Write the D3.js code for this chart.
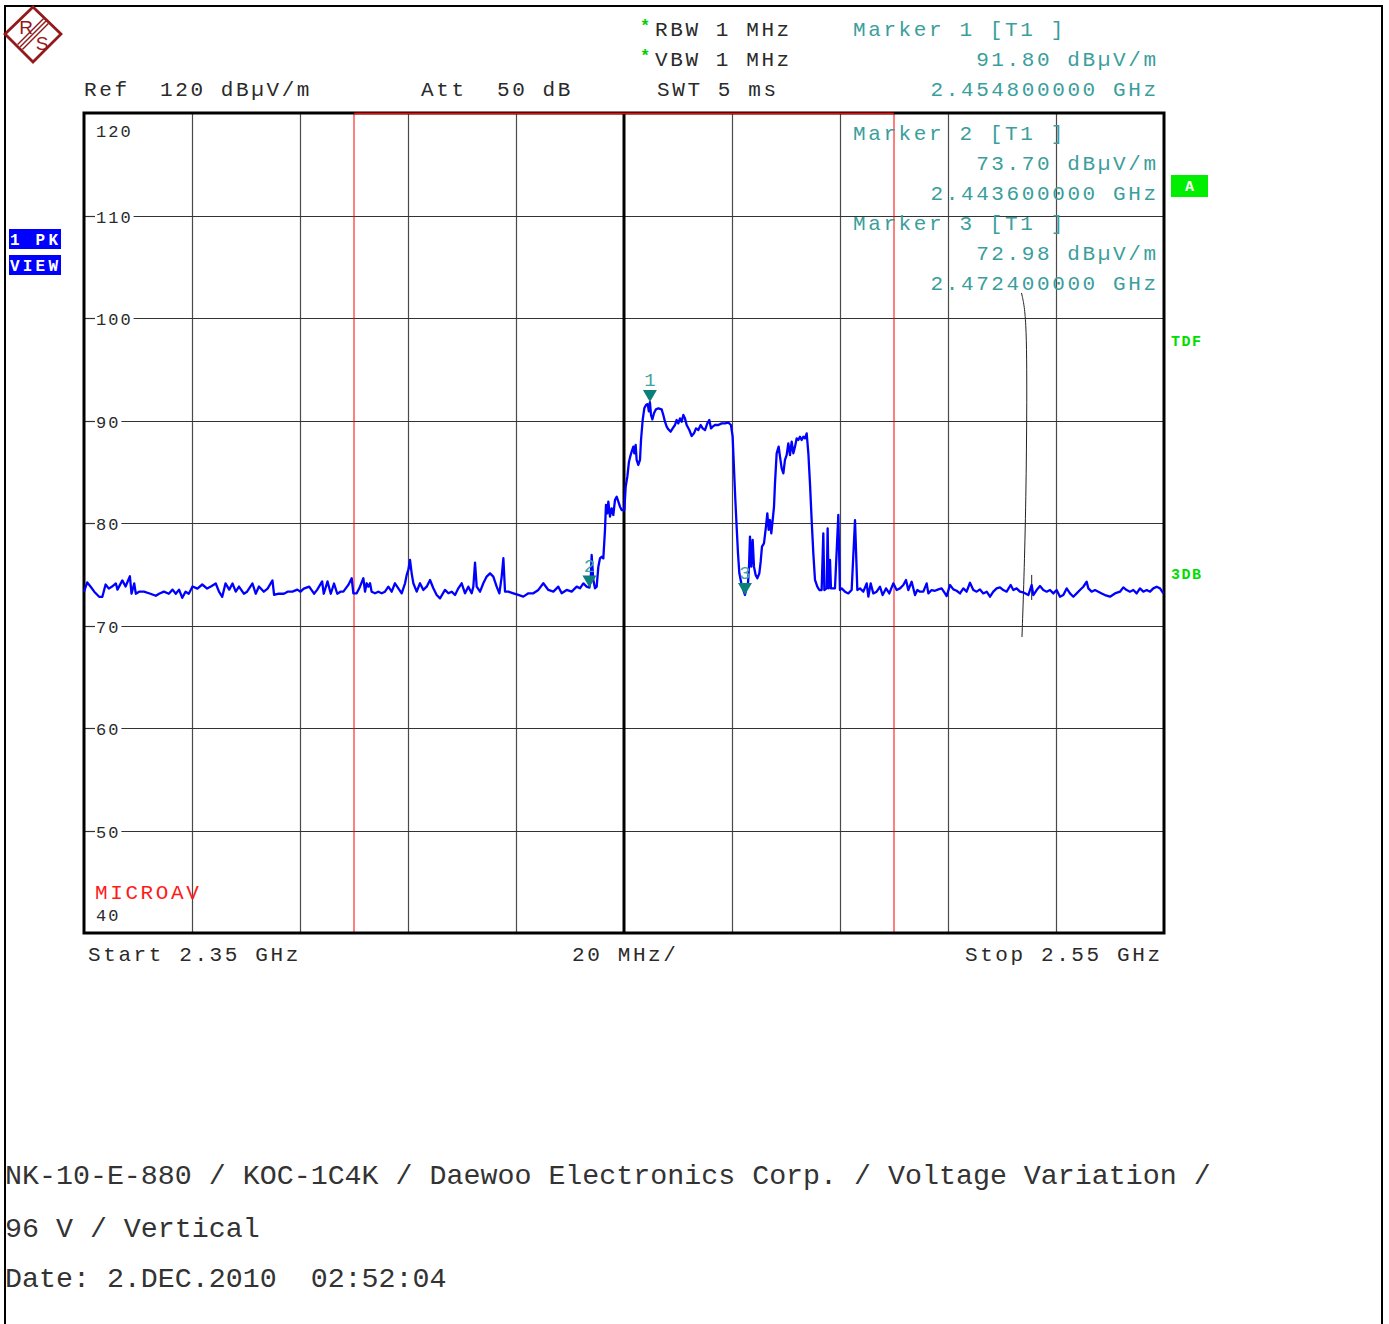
<!DOCTYPE html>
<html><head><meta charset="utf-8">
<script src="https://cdn.jsdelivr.net/npm/d3@7"></script>
<style>
html,body{margin:0;padding:0;background:#fff;}
svg{display:block;}
text{white-space:pre;}
</style></head><body>
<svg id="c" width="1389" height="1324"></svg>
<script>
// ---------- DATA ----------
const traceFreq = [
2350.0,2350.6,2351.2,2351.9,2352.8,2353.4,2354.0,2354.6,2355.2,2355.9,2356.2,2357.1,2357.7,2358.5,2358.8,2359.3,2359.6,2360.2,2361.1,2362.3,
2363.3,2363.9,2364.8,2365.7,2366.4,2367.0,2367.6,2368.2,2368.8,2369.4,2370.1,2371.0,2371.9,2372.8,2373.5,2374.4,2375.0,2375.6,2376.2,2376.9,
2377.5,2378.1,2378.7,2379.6,2380.2,2381.2,2381.8,2382.4,2383.3,2384.0,2384.9,2385.2,2386.1,2387.0,2387.7,2388.6,2389.5,2390.1,2390.7,2391.7,
2392.6,2393.2,2394.1,2394.4,2395.1,2395.7,2396.3,2396.9,2397.5,
2398.03,2398.95,2399.57,2399.88,2400.50,2401.11,2401.73,2402.04,2402.35,2402.66,2402.97,2403.27,2403.89,2404.51,2405.13,2405.74,2406.36,2406.98,
2407.59,2408.21,2408.83,2409.45,2409.76,2410.06,2410.37,2410.68,2410.99,2411.61,2412.22,2412.84,2413.46,2414.08,2414.69,2415.31,2415.93,2416.85,
2417.47,2418.09,2418.71,2419.32,2419.94,2420.56,2421.17,2421.79,2422.10,2422.41,2422.72,2423.34,2423.95,2424.57,2425.19,2425.80,2426.42,2426.92,
2427.35,2427.66,2427.97,2428.58,2429.51,2430.43,2431.36,2432.29,2433.21,2434.14,2435.06,2435.99,2436.92,2437.84,2438.46,2439.38,2440.31,2441.24,
2441.85,2442.47,2443.08,2443.60,2443.85,2444.01,2444.32,2444.63,2444.94,2445.25,2445.55,2445.86,2446.17,2446.48,2446.66,2446.91,2447.10,2447.41,
2447.71,2448.02,2448.33,2448.64,2448.95,2449.26,2449.57,2450.06,2450.31,2450.62,2450.92,2451.23,2451.42,2451.73,2451.91,2452.16,2452.34,2452.65,
2452.96,2453.15,2453.46,2453.76,2454.07,2454.38,2454.60,2454.80,2455.00,2455.25,2455.55,2455.92,2456.36,2456.97,2457.28,2457.59,2457.90,2458.21,
2458.64,2459.01,2459.44,2459.75,2460.06,2460.37,2460.68,2460.99,2461.29,2461.60,2462.10,2462.53,2462.96,2463.33,2463.76,2464.20,2464.57,2465.00,
2465.43,2465.80,2466.11,2466.42,2466.85,2467.47,2468.09,2468.70,2469.32,2469.81,2470.12,2470.25,2470.43,2470.62,2470.86,2471.11,2471.36,2471.79,
2472.40,2472.71,2472.96,2473.15,2473.33,2473.58,2473.83,2474.07,2474.38,2474.69,2475.06,2475.31,2475.55,2475.92,2476.29,2476.54,2476.79,2477.04,
2477.28,2477.53,2477.78,2477.96,2478.27,2478.64,2478.89,2479.20,2479.51,2479.81,2480.12,2480.43,2480.74,2481.05,2481.36,2481.67,2481.98,2482.28,
2482.59,2482.90,2483.21,2483.52,2483.83,2484.14,2484.44,2484.75,2485.06,2485.37,2485.80,2486.17,
2486.60,2486.91,2487.10,2487.53,2487.71,2487.90,2488.15,2488.33,2489.07,2489.69,2489.99,2490.31,2490.92,2491.54,2492.16,2492.78,2493.21,2493.70,
2494.32,2494.94,2495.25,2495.68,2496.17,2496.79,2497.41,2497.90,2498.52,2499.13,2499.87,2500.49,2501.11,2501.73,2502.22,2502.65,2503.27,2503.89,
2504.32,2504.81,2505.43,2506.05,2506.36,2506.97,2507.59,2508.21,2508.82,2509.44,2509.75,2510.37,2510.99,2511.60,2512.22,2512.84,2513.45,2514.07,
2514.69,2515.31,2515.92,2516.54,2517.16,2517.78,2518.39,2519.01,2519.63,2520.24,2520.86,2521.60,2522.10,2522.71,2523.33,2524.07,2524.88,2525.49,
2525.80,2526.42,2527.04,2527.65,2528.27,2528.89,2529.51,2530.12,2530.74,2531.36,2531.97,2532.59,2533.21,2533.83,2534.44,2535.06,2535.68,2535.99,
2536.60,2537.22,2537.84,2538.46,2539.07,2540.00,2540.92,2541.85,2542.47,2543.08,2543.70,2544.32,2544.94,2545.55,2546.17,2546.79,2547.41,2548.02,
2548.64,2549.26,2549.88
];
const traceLevel = [
73.3,74.2,73.8,73.3,72.8,72.8,74.0,73.6,73.8,74.1,73.5,74.4,73.8,74.8,73.1,74.1,73.1,73.3,73.3,73.1,
72.9,73.1,73.3,73.1,73.5,73.1,73.5,72.7,73.3,73.1,73.8,73.6,74.0,73.6,73.8,74.1,73.3,72.8,74.1,73.5,
74.1,73.3,73.8,73.1,73.3,74.1,73.1,73.8,73.3,73.6,74.4,73.0,73.1,73.1,73.3,73.3,73.5,73.3,73.6,73.8,
73.1,73.5,74.3,73.1,74.3,73.1,74.1,73.1,73.3,
73.30,73.96,74.61,73.14,73.14,73.79,74.61,73.30,74.12,73.79,74.12,73.30,73.14,73.30,73.14,73.30,73.79,73.30,
74.12,73.63,73.14,74.12,74.93,75.42,76.39,75.09,74.12,73.30,74.12,73.47,73.79,74.44,73.63,72.98,72.65,73.47,
73.14,73.30,72.98,73.63,74.12,73.14,73.79,73.14,73.79,76.13,73.79,73.30,74.12,74.77,75.09,74.77,73.79,73.14,
74.77,76.56,73.30,73.30,73.14,72.98,72.82,73.14,73.14,73.47,74.12,73.47,73.30,73.79,73.14,73.47,73.30,73.79,
73.63,74.11,73.79,73.70,74.60,76.88,74.44,73.63,73.79,75.74,76.55,76.71,76.55,79.32,81.76,80.94,82.08,80.62,
81.43,80.78,82.24,82.57,82.08,81.59,81.27,81.27,83.54,84.52,85.98,86.63,86.96,87.45,86.80,87.61,86.15,85.66,
86.15,88.10,90.05,91.19,91.51,91.60,90.90,91.80,90.54,90.11,90.70,91.09,91.19,91.09,90.54,89.88,89.40,89.14,
88.91,89.23,89.56,90.05,89.72,90.21,89.88,90.54,90.21,89.56,89.07,88.49,88.75,89.23,89.07,89.56,89.23,89.07,
89.72,90.05,89.23,89.40,89.56,89.56,89.72,89.72,89.79,89.56,88.42,86.80,84.52,82.24,79.64,77.04,75.09,73.95,
72.98,73.79,74.11,75.74,78.67,75.74,78.34,75.74,74.93,74.60,75.09,76.23,77.69,78.02,79.64,80.94,79.32,80.29,
78.99,80.29,81.59,83.87,86.80,87.45,86.47,85.33,84.84,86.15,86.63,87.77,86.63,87.93,86.80,87.45,88.26,88.10,
88.42,88.10,88.42,88.26,88.75,86.80,83.87,80.29,77.04,74.44,73.79,73.46,
73.46,78.99,73.46,73.62,79.48,73.62,76.39,73.62,73.62,80.78,73.46,73.62,73.30,73.13,73.46,80.29,73.46,73.62,
73.30,74.11,72.81,74.11,73.13,73.30,73.78,72.97,73.62,73.13,74.11,73.46,73.62,73.95,74.44,73.46,74.27,72.97,
73.46,73.30,73.30,74.11,73.13,73.46,73.39,73.52,73.62,73.13,72.87,73.95,73.52,73.39,73.13,73.62,73.30,74.17,
73.46,73.30,73.52,73.13,73.30,72.81,73.30,73.62,73.72,73.46,73.30,73.95,73.46,73.62,73.30,73.20,72.97,73.95,
72.97,73.46,73.85,73.46,73.30,73.46,73.13,73.46,72.81,72.97,73.62,73.13,72.81,73.13,73.46,73.78,74.27,73.62,
73.30,73.46,73.30,73.13,72.97,72.81,73.13,73.30,73.72,73.46,73.30,73.46,73.13,73.62,73.30,73.46,73.30,73.62,
73.78,73.62,73.13
];
const markerNames = ["1", "2", "3"];
const markerFreq = [2454.8, 2443.6, 2472.4];
const markerLevel = [91.80, 73.70, 72.98];
const gridFreq = [2370, 2390, 2410, 2430, 2470, 2490, 2510, 2530];
const centerFreq = 2450;
const yTicks = [110, 100, 90, 80, 70, 60, 50];
const limitFreq = [2400, 2500];
const limitLevel = 120;
const strayFreq = [2523.61, 2524.54, 2524.63, 2524.44, 2524.07, 2523.70];
const strayLevel = [102.44, 100.29, 92.0, 82.24, 74.44, 68.88];
const straySegFreq = [2525.5, 2525.5];
const straySegLevel = [74.93, 72.49];
const headerLines = ["Ref  120 dBµV/m", "Att  50 dB"];
const settingLines = ["RBW 1 MHz", "VBW 1 MHz", "SWT 5 ms"];
const markerTexts = [
  ["Marker 1 [T1 ]", "91.80 dBµV/m", "2.454800000 GHz"],
  ["Marker 2 [T1 ]", "73.70 dBµV/m", "2.443600000 GHz"],
  ["Marker 3 [T1 ]", "72.98 dBµV/m", "2.472400000 GHz"]
];
const axisTexts = ["Start 2.35 GHz", "20 MHz/", "Stop 2.55 GHz"];
const footerLines = [
  "NK-10-E-880 / KOC-1C4K / Daewoo Electronics Corp. / Voltage Variation /",
  "96 V / Vertical",
  "Date: 2.DEC.2010  02:52:04"
];

// ---------- DRAW ----------
const svg = d3.select("#c");
const MONO = "'Liberation Mono','Courier New',monospace";
const L = 84, R = 1164, T = 113, B = 933;
const x = d3.scaleLinear().domain([2350, 2550]).range([L, R]);
const y = d3.scaleLinear().domain([40, 120]).range([B, T]);

// page border
svg.append("path").attr("d", "M5,1324 L5,6 L1382,6 L1382,1324")
  .attr("fill", "none").attr("stroke", "#000").attr("stroke-width", 2);

// logo
const logo = svg.append("g").attr("transform", "translate(33,34)");
logo.append("path").attr("d", "M0,-27 L28,0 L0,28 L-28,0 Z").attr("fill", "none")
  .attr("stroke", "#931a1a").attr("stroke-width", 2.8);
[-2.4, 0, 2.4].forEach(d => logo.append("line")
  .attr("x1", -13 + d).attr("y1", 13 + d).attr("x2", 13 + d).attr("y2", -13 + d)
  .attr("stroke", "#931a1a").attr("stroke-width", 1.4));
logo.append("text").attr("x", -7).attr("y", 0).attr("text-anchor", "middle")
  .attr("font-family", "'Liberation Sans',Arial,sans-serif").attr("font-size", 19).attr("fill", "#931a1a").text("R");
logo.append("text").attr("x", 9).attr("y", 16).attr("text-anchor", "middle")
  .attr("font-family", "'Liberation Sans',Arial,sans-serif").attr("font-size", 19).attr("fill", "#931a1a").text("S");

// vertical grid via axis
const gx = svg.append("g").attr("transform", `translate(0,${B})`)
  .call(d3.axisBottom(x).tickValues(gridFreq).tickSize(-(B - T)).tickFormat(""));
gx.select(".domain").remove();
gx.selectAll(".tick line").attr("stroke", "#4a4a4a").attr("stroke-width", 1.2);

// horizontal grid with inline labels
const pitchSmall = 12.2;
yTicks.forEach(t => {
  const yy = Math.round(y(t)) + 0.5;
  const lbl = String(t);
  const endX = 96 + lbl.length * pitchSmall + 1;
  svg.append("line").attr("x1", L).attr("x2", 95).attr("y1", yy).attr("y2", yy)
    .attr("stroke", "#333").attr("stroke-width", 1.2);
  svg.append("line").attr("x1", endX).attr("x2", R).attr("y1", yy).attr("y2", yy)
    .attr("stroke", "#333").attr("stroke-width", 1.2);
  svg.append("text").attr("x", 96).attr("y", yy + 6).attr("font-family", MONO)
    .attr("font-size", 17).attr("letter-spacing", 2).attr("fill", "#2a2a2a").text(lbl);
});
svg.append("text").attr("x", 96).attr("y", y(120) + 24).attr("font-family", MONO)
  .attr("font-size", 17).attr("letter-spacing", 2).attr("fill", "#2a2a2a").text("120");
svg.append("text").attr("x", 96).attr("y", y(40) - 12).attr("font-family", MONO)
  .attr("font-size", 17).attr("letter-spacing", 2).attr("fill", "#2a2a2a").text("40");

// red limit verticals
limitFreq.forEach(f => svg.append("line").attr("x1", x(f)).attr("x2", x(f))
  .attr("y1", T).attr("y2", B).attr("stroke", "#ff0000").attr("stroke-width", 1));

// center line
svg.append("line").attr("x1", x(centerFreq)).attr("x2", x(centerFreq))
  .attr("y1", T).attr("y2", B).attr("stroke", "#000").attr("stroke-width", 3);

// frame
svg.append("rect").attr("x", L).attr("y", T).attr("width", R - L).attr("height", B - T)
  .attr("fill", "none").attr("stroke", "#000").attr("stroke-width", 3);

// red limit top
svg.append("line").attr("x1", x(limitFreq[0])).attr("x2", x(limitFreq[1]))
  .attr("y1", y(limitLevel) + 0.5).attr("y2", y(limitLevel) + 0.5)
  .attr("stroke", "#ff0000").attr("stroke-width", 1.5);

// stray line
const strayLine = d3.line().x(d => x(d[0])).y(d => y(d[1])).curve(d3.curveBasis);
svg.append("path").attr("d", strayLine(strayFreq.map((f, i) => [f, strayLevel[i]])))
  .attr("fill", "none").attr("stroke", "#222").attr("stroke-width", 1);
svg.append("path").attr("d", d3.line().x(d => x(d[0])).y(d => y(d[1]))(straySegFreq.map((f, i) => [f, straySegLevel[i]])))
  .attr("fill", "none").attr("stroke", "#222").attr("stroke-width", 1);

// trace
const line = d3.line().x(d => x(d[0])).y(d => y(d[1]));
svg.append("path").attr("d", line(traceFreq.map((f, i) => [f, traceLevel[i]])))
  .attr("fill", "none").attr("stroke", "#0000ff").attr("stroke-width", 2.3)
  .attr("stroke-linejoin", "round");

// markers
markerFreq.forEach((f, i) => {
  const mx = x(f), my = y(markerLevel[i]);
  svg.append("path").attr("d", `M${mx - 7},${my - 12} L${mx + 7},${my - 12} L${mx},${my} Z`)
    .attr("fill", "#0b7f7a");
  svg.append("text").attr("x", mx).attr("y", my - 16).attr("text-anchor", "middle")
    .attr("font-family", MONO).attr("font-size", 19).attr("fill", "#3fa3a0").text(markerNames[i]);
});

// header texts
const FS = 21, LS = 2.6;
function mtext(xx, yy, s, col, anchor) {
  return svg.append("text").attr("x", anchor === "end" ? xx + LS : xx).attr("y", yy)
    .attr("text-anchor", anchor || "start").attr("font-family", MONO).attr("font-size", FS)
    .attr("letter-spacing", LS).attr("fill", col).text(s);
}
mtext(84, 96, headerLines[0], "#2a2a2a");
mtext(421, 96, headerLines[1], "#2a2a2a");
mtext(655, 36, settingLines[0], "#2a2a2a");
mtext(655, 66, settingLines[1], "#2a2a2a");
mtext(657, 96, settingLines[2], "#2a2a2a");
[31, 61].forEach(yy => svg.append("text").attr("x", 640).attr("y", yy)
  .attr("font-family", MONO).attr("font-size", 17).attr("font-weight", "bold")
  .attr("fill", "#00d000").text("*"));
const TEAL = "#3a9e9c";
const mBase = [36, 140, 230];
markerTexts.forEach((m, i) => {
  mtext(853, mBase[i], m[0], TEAL);
  mtext(1156, mBase[i] + 30, m[1], TEAL, "end");
  mtext(1156, mBase[i] + 60, m[2], TEAL, "end");
});

// side badges
svg.append("rect").attr("x", 9).attr("y", 229).attr("width", 52).attr("height", 20).attr("fill", "#0000ff");
svg.append("rect").attr("x", 9).attr("y", 255).attr("width", 52).attr("height", 20).attr("fill", "#0000ff");
svg.append("text").attr("x", 10).attr("y", 245).attr("font-family", MONO).attr("font-size", 16)
  .attr("font-weight", "bold").attr("letter-spacing", 3.2).attr("fill", "#fff").text("1 PK");
svg.append("text").attr("x", 10).attr("y", 271).attr("font-family", MONO).attr("font-size", 16)
  .attr("font-weight", "bold").attr("letter-spacing", 3.2).attr("fill", "#fff").text("VIEW");
svg.append("rect").attr("x", 1171).attr("y", 175).attr("width", 37).attr("height", 22).attr("fill", "#00ee00");
svg.append("text").attr("x", 1189.5).attr("y", 191).attr("text-anchor", "middle").attr("font-family", MONO)
  .attr("font-size", 15).attr("font-weight", "bold").attr("fill", "#fff").text("A");
svg.append("text").attr("x", 1171).attr("y", 346).attr("font-family", MONO).attr("font-size", 15)
  .attr("font-weight", "bold").attr("letter-spacing", 1.5).attr("fill", "#00dd00").text("TDF");
svg.append("text").attr("x", 1171).attr("y", 579).attr("font-family", MONO).attr("font-size", 15)
  .attr("font-weight", "bold").attr("letter-spacing", 1.5).attr("fill", "#00dd00").text("3DB");

// in-plot red label
mtext(95, 899, "MICROAV", "#ff1a1a");

// bottom axis texts
mtext(88, 961, axisTexts[0], "#2a2a2a");
svg.append("text").attr("x", x(centerFreq) + LS / 2).attr("y", 961).attr("text-anchor", "middle")
  .attr("font-family", MONO).attr("font-size", FS).attr("letter-spacing", LS).attr("fill", "#2a2a2a").text(axisTexts[1]);
mtext(1160, 961, axisTexts[2], "#2a2a2a", "end");

// footer
const fBase = [1184, 1237, 1287];
footerLines.forEach((s, i) => svg.append("text").attr("x", 5).attr("y", fBase[i])
  .attr("font-family", MONO).attr("font-size", 28.3).attr("fill", "#333").text(s));
</script>
</body></html>
